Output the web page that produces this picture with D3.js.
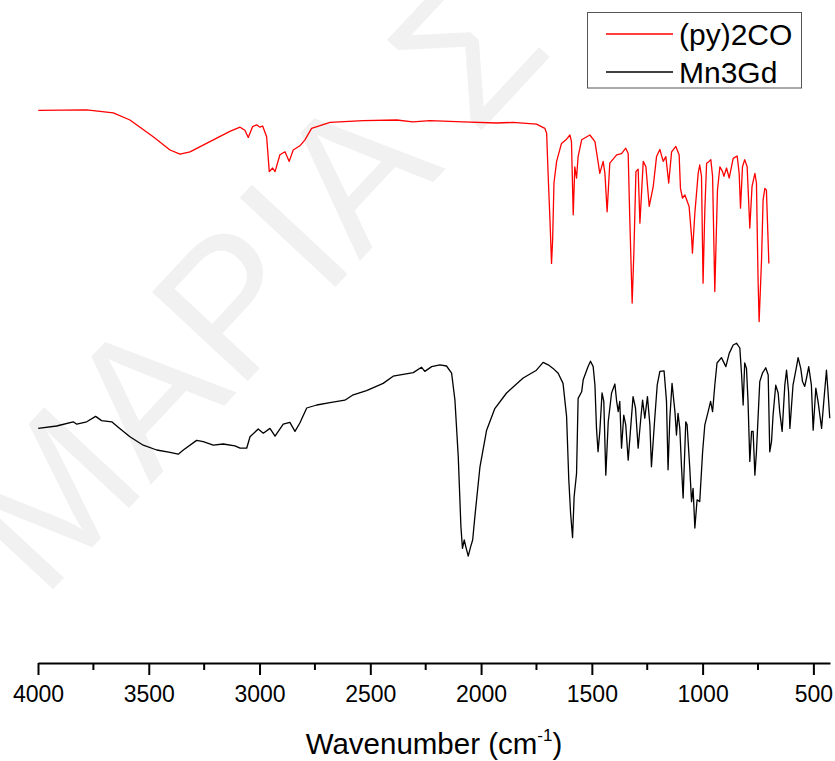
<!DOCTYPE html>
<html>
<head>
<meta charset="utf-8">
<script src="https://cdn.jsdelivr.net/npm/d3@7"></script>
<style>
  html, body { margin: 0; padding: 0; background: #ffffff; }
  svg { display: block; font-family: "Liberation Sans", Arial, sans-serif; }
</style>
</head>
<body>
<svg id="chart" width="835" height="761"></svg>
<script>
// FT-IR spectra: wavenumber (cm^-1) and transmittance (arbitrary %, offset per trace)
const py2coWavenumber = [3999,3780,3660,3585,3480,3404,3359,3314,3224,3134,3088,3066,3051,3031,3013,2998,2986,2968,2956,2941,2930,2908,2885,2866,2848,2818,2795,2765,2682,2532,2381,2308,2231,2082,1930,1856,1750,1712,1704,1697,1689,1682,1677,1671,1659,1637,1614,1599,1592,1584,1577,1569,1562,1546,1509,1486,1464,1449,1441,1431,1419,1388,1366,1347,1336,1329,1318,1310,1301,1291,1283,1268,1256,1241,1223,1208,1193,1178,1166,1153,1140,1121,1106,1100,1091,1080,1061,1050,1046,1035,1020,1013,1005,998,990,982,971,963,955,945,933,922,910,904,892,880,862,844,835,829,820,810,799,787,777,764,757,750,745,734,727,719,712,701];
const py2coTransmittance = [92.1,92.2,91.7,90.5,87.7,85.5,84.8,85.2,86.9,88.6,89.3,88.8,87.6,89.4,89.7,89.3,89.5,87.7,81.9,82.5,81.9,84.7,85.2,83.6,85.5,86.2,87.2,89.1,90.1,90.4,90.5,90.2,90.4,90.2,90.0,90.1,89.8,89.1,88.3,81.1,73.8,66.6,70.5,80.0,83.6,86.6,87.3,88.0,86.9,74.7,82.7,80.8,84.4,87.2,88.0,86.9,81.6,83.6,81.6,75.2,83.3,84.7,84.9,85.8,84.9,74.4,60.0,68.8,81.9,82.3,73.3,83.6,82.7,76.1,79.4,84.4,85.6,83.6,84.4,80.0,85.2,86.1,84.7,79.1,77.5,78.0,76.1,71.1,68.3,75.0,81.6,83.0,81.1,63.3,75.5,83.3,83.6,83.9,81.1,61.9,78.8,82.7,81.9,81.1,82.5,80.8,84.1,84.5,81.6,75.8,82.7,83.9,82.7,72.5,79.4,81.6,80.0,64.4,56.9,67.2,77.2,79.1,78.8,66.6];

const mn3gdWavenumber = [3999,3916,3841,3825,3780,3740,3713,3667,3638,3585,3525,3464,3404,3367,3344,3284,3254,3209,3164,3111,3088,3058,3043,3006,2983,2953,2930,2893,2863,2840,2818,2787,2742,2682,2615,2577,2517,2442,2397,2306,2269,2254,2223,2186,2156,2133,2118,2103,2091,2084,2076,2069,2058,2047,2038,2028,2005,1975,1938,1885,1810,1750,1720,1697,1675,1652,1630,1614,1604,1596,1587,1580,1569,1562,1546,1539,1517,1506,1494,1486,1479,1472,1464,1454,1446,1437,1426,1411,1396,1388,1381,1374,1366,1356,1347,1336,1325,1314,1303,1291,1279,1271,1261,1249,1238,1231,1216,1205,1193,1174,1163,1156,1148,1138,1125,1118,1111,1103,1095,1088,1076,1070,1058,1050,1043,1035,1025,1013,1000,990,975,964,955,945,935,915,895,880,862,847,832,824,817,810,802,795,787,779,772,764,757,742,730,715,704,697,689,682,670,659,652,641,629,621,612,606,592,576,569,557,549,539,531,521,509,501,489,479,463,453,441,434,426];
const mn3gdTransmittance = [39.1,39.5,40.2,39.8,40.2,41.1,40.4,40.2,39.3,37.7,36.3,35.5,35.1,34.8,35.5,37.1,36.9,36.3,36.5,36.2,35.8,35.8,37.7,39.0,38.3,39.1,37.8,39.8,40.1,38.6,40.0,42.5,43.0,43.4,43.8,44.7,45.4,46.6,47.8,48.4,49.3,48.6,49.4,49.7,49.5,48.3,43.8,34.4,22.7,19.1,20.5,19.4,17.8,19.4,20.5,24.4,32.7,38.8,42.4,45.0,47.5,48.8,50.1,49.7,49.1,48.3,46.6,41.1,30.5,25.0,20.9,27.7,31.6,44.1,45.2,47.2,49.4,50.3,49.4,46.3,39.1,35.2,38.6,45.0,43.6,31.3,40.2,45.0,46.5,43.6,41.9,43.6,35.8,41.3,39.7,33.8,39.1,44.4,42.5,35.8,40.8,43.8,40.8,44.4,39.7,32.7,40.8,46.3,48.6,48.7,43.6,32.2,40.8,46.6,41.9,38.0,41.6,39.1,32.5,27.5,40.2,39.7,32.5,26.9,29.1,22.5,27.2,26.9,35.2,39.7,41.9,43.6,41.9,46.3,50.0,50.9,49.4,51.6,53.0,53.3,52.5,48.0,43.0,50.0,49.1,43.6,33.6,38.6,38.6,31.3,35.2,46.9,48.3,49.2,48.0,35.2,36.9,41.3,46.3,45.0,41.9,38.6,46.3,48.8,45.2,39.1,46.3,49.4,50.9,49.1,46.9,46.1,47.5,49.4,46.3,38.8,45.8,43.6,39.1,43.6,48.8,45.2,40.8];

const seriesNames = ["(py)2CO", "Mn3Gd"];
const seriesColors = ["#ff0000", "#000000"];
const majorTicks = [4000, 3500, 3000, 2500, 2000, 1500, 1000, 500];
const minorTicks = [3750, 3250, 2750, 2250, 1750, 1250, 750];
const xDomain = [4000, 425];
const yDomain = [0, 100];
const axisTitle = "Wavenumber (cm";
const watermarkText = "ΜΑΡΙΑ Σ";

const svg = d3.select("#chart");
const W = 835, H = 761;
const plot = { left: 38, right: 830, top: 63, bottom: 663 };

svg.append("rect").attr("width", W).attr("height", H).attr("fill", "#ffffff");

// faint diagonal watermark behind the traces
svg.append("text")
  .attr("transform", "translate(262,292) rotate(-47)")
  .attr("text-anchor", "middle")
  .attr("dominant-baseline", "middle")
  .attr("font-size", 190)
  .attr("fill", "#f1f1f1")
  .text(watermarkText);

const x = d3.scaleLinear().domain(xDomain).range([plot.left, plot.right]);
const y = d3.scaleLinear().domain(yDomain).range([plot.bottom, plot.top]);

const line = d3.line().x(d => x(d[0])).y(d => y(d[1]));

const series = [
  d3.zip(py2coWavenumber, py2coTransmittance),
  d3.zip(mn3gdWavenumber, mn3gdTransmittance)
];

series.forEach((pts, i) => {
  svg.append("path")
    .datum(pts)
    .attr("fill", "none")
    .attr("stroke", seriesColors[i])
    .attr("stroke-width", 1.3)
    .attr("stroke-linejoin", "round")
    .attr("d", line);
});

// bottom axis: major labelled ticks plus unlabelled minor ticks
const axisG = svg.append("g").attr("transform", `translate(0,${plot.bottom})`);
axisG.call(d3.axisBottom(x).tickValues(majorTicks).tickSize(12).tickSizeOuter(0).tickFormat(d3.format("d")));
axisG.select(".domain").attr("stroke", "#000").attr("stroke-width", 2);
axisG.selectAll(".tick line").attr("stroke", "#000").attr("stroke-width", 2);
axisG.selectAll(".tick text")
  .attr("fill", "#000")
  .attr("font-size", 23)
  .attr("font-family", "Liberation Sans, Arial, sans-serif")
  .attr("dy", null)
  .attr("y", 38.5);

const minorG = svg.append("g").attr("transform", `translate(0,${plot.bottom})`);
minorG.selectAll("line").data(minorTicks).join("line")
  .attr("x1", d => x(d)).attr("x2", d => x(d))
  .attr("y1", 0).attr("y2", 7)
  .attr("stroke", "#000").attr("stroke-width", 2);

// axis title with superscript unit
const title = svg.append("text")
  .attr("x", 434)
  .attr("y", 754)
  .attr("text-anchor", "middle")
  .attr("font-size", 29.5)
  .attr("fill", "#000");
title.append("tspan").text(axisTitle);
title.append("tspan").attr("font-size", 17).attr("dy", -13).text("-1");
title.append("tspan").attr("dy", 13).text(")");

// legend
const legend = svg.append("g");
legend.append("rect")
  .attr("x", 587.5).attr("y", 12.5).attr("width", 214).attr("height", 75.5)
  .attr("fill", "#ffffff").attr("stroke", "#555").attr("stroke-width", 1);
seriesNames.forEach((name, i) => {
  const ly = 34 + i * 38;
  legend.append("line")
    .attr("x1", 606).attr("x2", 673).attr("y1", ly).attr("y2", ly)
    .attr("stroke", seriesColors[i]).attr("stroke-width", 1.3);
  legend.append("text")
    .attr("x", 679).attr("y", ly + 10.5)
    .attr("font-size", 30)
    .attr("fill", "#000")
    .text(name);
});
</script>
</body>
</html>
